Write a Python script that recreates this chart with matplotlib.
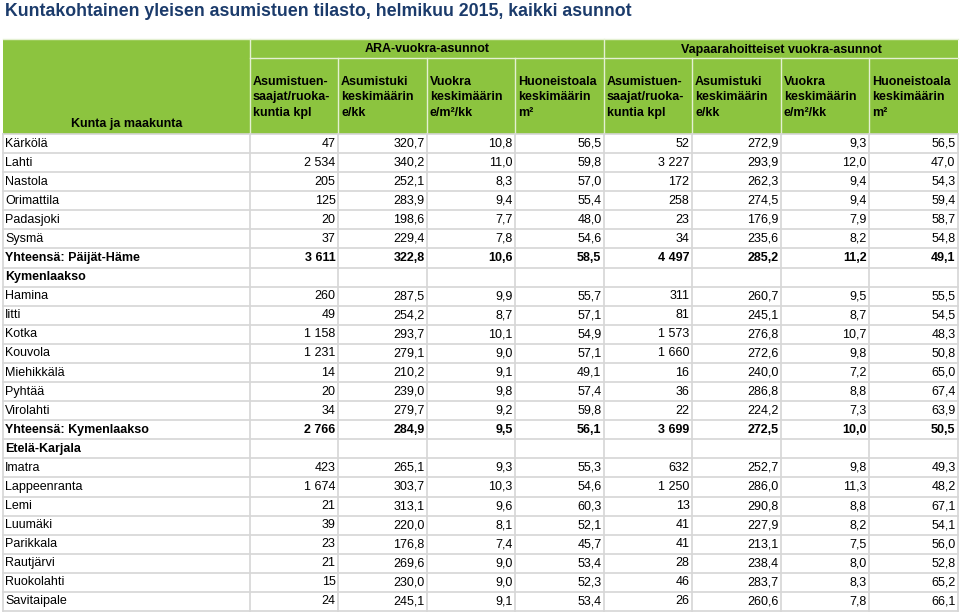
import matplotlib.pyplot as plt
from matplotlib.patches import Rectangle

plt.rcParams['font.family'] = ['Liberation Sans', 'DejaVu Sans']

# Table data
names = ['Kärkölä', 'Lahti', 'Nastola', 'Orimattila', 'Padasjoki', 'Sysmä',
         'Yhteensä: Päijät-Häme', 'Kymenlaakso', 'Hamina', 'Iitti', 'Kotka',
         'Kouvola', 'Miehikkälä', 'Pyhtää', 'Virolahti', 'Yhteensä: Kymenlaakso',
         'Etelä-Karjala', 'Imatra', 'Lappeenranta', 'Lemi', 'Luumäki',
         'Parikkala', 'Rautjärvi', 'Ruokolahti', 'Savitaipale']
# 'n' normal, 't' total (bold), 'r' region heading (bold, empty)
row_kind = ['n'] * 6 + ['t', 'r'] + ['n'] * 7 + ['t', 'r'] + ['n'] * 8

ara_kpl = [47, 2534, 205, 125, 20, 37, 3611, None, 260, 49, 1158, 1231, 14, 20, 34,
           2766, None, 423, 1674, 21, 39, 23, 21, 15, 24]
ara_tuki = [320.7, 340.2, 252.1, 283.9, 198.6, 229.4, 322.8, None, 287.5, 254.2, 293.7,
            279.1, 210.2, 239.0, 279.7, 284.9, None, 265.1, 303.7, 313.1, 220.0, 176.8,
            269.6, 230.0, 245.1]
ara_vuokra = [10.8, 11.0, 8.3, 9.4, 7.7, 7.8, 10.6, None, 9.9, 8.7, 10.1, 9.0, 9.1, 9.8,
              9.2, 9.5, None, 9.3, 10.3, 9.6, 8.1, 7.4, 9.0, 9.0, 9.1]
ara_ala = [56.5, 59.8, 57.0, 55.4, 48.0, 54.6, 58.5, None, 55.7, 57.1, 54.9, 57.1, 49.1,
           57.4, 59.8, 56.1, None, 55.3, 54.6, 60.3, 52.1, 45.7, 53.4, 52.3, 53.4]
vapaa_kpl = [52, 3227, 172, 258, 23, 34, 4497, None, 311, 81, 1573, 1660, 16, 36, 22,
             3699, None, 632, 1250, 13, 41, 41, 28, 46, 26]
vapaa_tuki = [272.9, 293.9, 262.3, 274.5, 176.9, 235.6, 285.2, None, 260.7, 245.1, 276.8,
              272.6, 240.0, 286.8, 224.2, 272.5, None, 252.7, 286.0, 290.8, 227.9, 213.1,
              238.4, 283.7, 260.6]
vapaa_vuokra = [9.3, 12.0, 9.4, 9.4, 7.9, 8.2, 11.2, None, 9.5, 8.7, 10.7, 9.8, 7.2, 8.8,
                7.3, 10.0, None, 9.8, 11.3, 8.8, 8.2, 7.5, 8.0, 8.3, 7.8]
vapaa_ala = [56.5, 47.0, 54.3, 59.4, 58.7, 54.8, 49.1, None, 55.5, 54.5, 48.3, 50.8, 65.0,
             67.4, 63.9, 50.5, None, 49.3, 48.2, 67.1, 54.1, 56.0, 52.8, 65.2, 66.1]

columns = [ara_kpl, ara_tuki, ara_vuokra, ara_ala,
           vapaa_kpl, vapaa_tuki, vapaa_vuokra, vapaa_ala]
decimals = [0, 1, 1, 1, 0, 1, 1, 1]

col_headers = ['Asumistuen-\nsaajat/ruoka-\nkuntia kpl', 'Asumistuki\nkeskimäärin\ne/kk',
               'Vuokra\nkeskimäärin\ne/m²/kk', 'Huoneistoala\nkeskimäärin\nm²'] * 2
group_headers = ['ARA-vuokra-asunnot', 'Vapaarahoitteiset vuokra-asunnot']
title = 'Kuntakohtainen yleisen asumistuen tilasto, helmikuu 2015, kaikki asunnot'

green = '#8cc43f'
grid = '#d6d6d6'
fs = 9


def fmt(v, d):
    if v is None:
        return ''
    s = f'{v:,.{d}f}'
    return s.replace(',', ' ').replace('.', ',')


fig = plt.figure(figsize=(9.6, 6.12), dpi=100)
ax = fig.add_axes([0, 0, 1, 1])
ax.set_xlim(0, 960)
ax.set_ylim(612, 0)
ax.axis('off')

ax.text(5, 12, title, fontsize=12.8, fontweight='bold', color='#1b3b6b', va='center')

edges = [3, 250, 338, 427, 515, 604, 692, 781, 869, 958]
top, mid, head_bot = 39, 58, 134
row_h = 19.08

# header background
ax.add_patch(Rectangle((edges[0], top), edges[-1] - edges[0], head_bot - top,
                       facecolor=green, edgecolor='none'))
hl = '#e4f0d2'
ax.plot([edges[1], edges[-1]], [mid, mid], color=hl, lw=1)
ax.plot([edges[0], edges[-1]], [top, top], color=hl, lw=1)
for x in [edges[1], edges[5]]:
    ax.plot([x, x], [top, head_bot], color=hl, lw=1)
for x in edges[2:5] + edges[6:9]:
    ax.plot([x, x], [mid, head_bot], color=hl, lw=1)

ax.text((edges[1] + edges[5]) / 2, (top + mid) / 2 + 1, group_headers[0], fontsize=fs,
        fontweight='bold', ha='center', va='center')
ax.text((edges[5] + edges[-1]) / 2, (top + mid) / 2 + 1, group_headers[1], fontsize=fs,
        fontweight='bold', ha='center', va='center')
ax.text((edges[0] + edges[1]) / 2, 124, 'Kunta ja maakunta', fontsize=fs,
        fontweight='bold', ha='center', va='center')
for j, h in enumerate(col_headers):
    ax.text(edges[j + 1] + 3, 76, h, fontsize=fs, fontweight='bold', ha='left',
            va='top', linespacing=1.38)

# body
n = len(names)
body_bot = head_bot + n * row_h
for i in range(n + 1):
    y = head_bot + i * row_h
    ax.plot([edges[0], edges[-1]], [y, y], color=grid, lw=1.2)
for x in edges:
    ax.plot([x, x], [head_bot, body_bot], color=grid, lw=1.2)

for i, name in enumerate(names):
    yc = head_bot + (i + 0.5) * row_h
    bold = row_kind[i] != 'n'
    w = 'bold' if bold else 'normal'
    ax.text(edges[0] + 2, yc, name, fontsize=fs, fontweight=w, va='center')
    for j, col in enumerate(columns):
        ax.text(edges[j + 2] - 2.5, yc, fmt(col[i], decimals[j]), fontsize=fs,
                fontweight=w, ha='right', va='center')

fig.savefig('out.png', dpi=100)
